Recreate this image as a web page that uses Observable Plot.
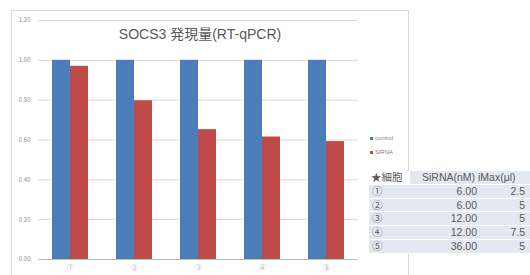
<!DOCTYPE html>
<html>
<head>
<meta charset="utf-8">
<script src="https://cdn.jsdelivr.net/npm/d3@7"></script>
<script src="https://cdn.jsdelivr.net/npm/@observablehq/plot@0.6"></script>
<style>
  html, body { margin: 0; padding: 0; background: #fff; }
  #wrap { position: relative; width: 530px; height: 275px; overflow: hidden; font-family: "Liberation Sans", "Noto Sans CJK JP", sans-serif; }
  #frame { position: absolute; left: 11px; top: 10px; width: 398px; height: 300px; border: 1px solid #d9d9d9; box-sizing: border-box; }
  #title { position: absolute; left: 200px; top: 23px; transform: translateX(-50%); font-size: 14px; color: #595959; white-space: nowrap; }
  .leg { position: absolute; left: 370px; font-size: 6px; color: #7f7f7f; white-space: nowrap; line-height: 8px; }
  .leg i { display: inline-block; width: 3px; height: 3px; margin-right: 2px; vertical-align: middle; }
  #tbl { position: absolute; left: 369px; top: 171px; width: 161px; color: #595959; font-size: 10.5px; }
  .row { position: relative; height: 12.8px; line-height: 12.8px; border-bottom: 1px solid #fff; background: #e4e8f2; white-space: nowrap; }
  .row span { position: absolute; top: 0; }
  .hdr { background: linear-gradient(to right, #fff 0, #fff 41px, #e4e8f2 41px); }
  svg { position: absolute; left: 0; top: 0; }
</style>
</head>
<body>
<div id="wrap">
  <div id="frame"></div>
</div>
<script>
const categories = ["①", "②", "③", "④", "⑤"];
const control = [1.00, 1.00, 1.00, 1.00, 1.00];
const sirna = [0.97, 0.797, 0.652, 0.615, 0.592];
const yTicks = [0, 0.2, 0.4, 0.6, 0.8, 1.0, 1.2];
const seriesNames = ["control", "SiRNA"];
const seriesColors = ["#4a7ebb", "#be4b48"];
const tableHeader = ["★細胞", "SiRNA(nM)", "iMax(μl)"];
const tableNM = ["6.00", "6.00", "12.00", "12.00", "36.00"];
const tableIMax = ["2.5", "5", "5", "7.5", "5"];
const titleText = "SOCS3 発現量(RT-qPCR)";

const data = categories.map((c, i) => ({cat: c, control: control[i], sirna: sirna[i]}));

const W = 530, H = 275, ML = 38, MR = 172, MT = 20, MB = 16;
const padInner = 0.4375, padOuter = padInner / 2;
const step = (W - ML - MR) / (categories.length - padInner + 2 * padOuter);
const half = step * (1 - padInner) / 2;

const chart = Plot.plot({
  width: W, height: H,
  marginLeft: ML, marginRight: MR, marginTop: MT, marginBottom: MB,
  style: {fontFamily: "'Noto Sans CJK JP', 'Liberation Sans', sans-serif", background: "transparent"},
  x: {domain: categories, paddingInner: padInner, paddingOuter: padOuter, label: null},
  y: {domain: [0, 1.2], label: null},
  marks: [
    Plot.ruleY(yTicks.slice(1), {stroke: "#d9d9d9", strokeWidth: 1}),
    Plot.barY(data, {x: "cat", y: "control", fill: seriesColors[0], insetRight: half}),
    Plot.barY(data, {x: "cat", y: "sirna", fill: seriesColors[1], insetLeft: half}),
    Plot.ruleY([0], {stroke: "#bfbfbf", strokeWidth: 1}),
    Plot.axisY({ticks: yTicks, tickFormat: d3.format(".2f"), tickSize: 0, tickPadding: 8, fontSize: 6, fill: "#8c8c8c"}),
    Plot.axisX({tickSize: 0, tickPadding: 6, fontSize: 7, fill: "#a6a6a6"})
  ]
});
const wrap = document.getElementById("wrap");
wrap.appendChild(chart);

const title = document.createElement("div");
title.id = "title";
title.textContent = titleText;
wrap.appendChild(title);

seriesNames.forEach((n, i) => {
  const d = document.createElement("div");
  d.className = "leg";
  d.style.top = (134 + i * 14) + "px";
  d.innerHTML = `<i style="background:${seriesColors[i]}"></i>${n}`;
  wrap.appendChild(d);
});

const tbl = document.createElement("div");
tbl.id = "tbl";
const hdr = document.createElement("div");
hdr.className = "row hdr";
hdr.innerHTML = `<span style="left:2px">${tableHeader[0]}</span><span style="left:53px">${tableHeader[1]}</span><span style="left:109px">${tableHeader[2]}</span>`;
tbl.appendChild(hdr);
categories.forEach((c, i) => {
  const r = document.createElement("div");
  r.className = "row";
  r.innerHTML = `<span style="left:3px">${c}</span><span style="right:53px">${tableNM[i]}</span><span style="right:5px">${tableIMax[i]}</span>`;
  tbl.appendChild(r);
});
wrap.appendChild(tbl);
</script>
</body>
</html>
